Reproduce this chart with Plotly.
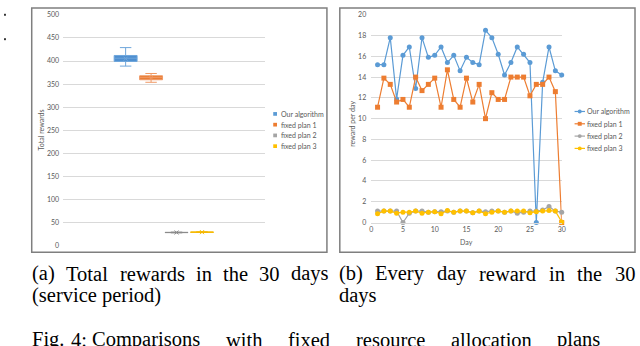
import plotly.graph_objects as go

W, H = 640, 346


def px(x):
    return x / W


def py(y):
    return 1 - y / H


# ---------------- data ----------------
series_names = ["Our algorithm", "fixed plan 1", "fixed plan 2", "fixed plan 3"]
colors = ["#5B9BD5", "#ED7D31", "#A5A5A5", "#FFC000"]

# (a) total rewards in the 30 days: box statistics per method
box_lower = [389, 354, 28.4, 29.2]
box_q1 = [399, 359.5, 28.9, 29.6]
box_median = [406, 364, 29.2, 29.9]
box_q3 = [412, 368, 29.5, 30.2]
box_upper = [429, 373, 30.0, 30.6]
box_mean = [405, 364, 29.2, 29.9]

# (b) every day reward in the 30 days
days = list(range(1, 31))
our_alg = [15.2, 15.2, 17.8, 11.9, 16.1, 16.9, 12.9, 17.8, 15.9, 16.1,
           16.9, 15.4, 16.1, 14.6, 15.9, 15.4, 15.2, 18.5, 17.8, 16.2,
           14.2, 15.4, 16.9, 16.2, 15.4, 0.0, 13.5, 16.9, 14.6, 14.2]
plan1 = [11.1, 13.9, 13.3, 11.6, 11.85, 11.1, 14.0, 12.7, 13.3, 13.9,
         11.1, 14.7, 11.85, 11.1, 13.9, 11.6, 13.3, 10.0, 12.5, 11.85,
         11.85, 14.0, 14.0, 14.0, 12.2, 13.3, 13.3, 14.0, 12.6, 0.0]
plan2 = [1.1, 1.1, 1.1, 1.1, 0.0, 0.9, 1.1, 1.1, 1.0, 1.05,
         1.05, 1.1, 1.0, 1.1, 1.1, 0.95, 1.1, 1.05, 1.1, 1.1,
         1.0, 1.1, 0.9, 1.0, 1.1, 1.1, 1.2, 1.55, 1.1, 1.0]
plan3 = [0.85, 1.1, 1.1, 0.9, 1.0, 1.0, 1.1, 0.9, 1.0, 1.05,
         0.85, 1.15, 1.0, 1.1, 1.1, 0.95, 1.1, 0.85, 1.0, 1.1,
         1.0, 1.1, 1.1, 1.1, 0.95, 1.05, 1.1, 1.15, 1.1, 0.05]
daily_series = [our_alg, plan1, plan2, plan3]
daily_symbols = ["circle", "square", "circle", "circle"]

left_yticks = list(range(0, 501, 50))
right_yticks = list(range(0, 21, 2))
right_xticks = list(range(0, 31, 5))

caption_a = ["(a) Total rewards in the 30 days", "(service period)"]
caption_b = ["(b) Every day reward in the 30", "days"]
caption_fig_label = "Fig. 4:"
caption_fig_text = "Comparisons with fixed resource allocation plans"

# ---------------- figure ----------------
fig = go.Figure()

box_fill = ["#4F8FD0", "#E8792C", "#8C8C8C", "#F5B800"]
box_line = ["#6FA6DB", "#F09A66", "#8C8C8C", "#F5B800"]
for i, name in enumerate(series_names):
    fig.add_trace(go.Box(
        x=[i], q1=[box_q1[i]], median=[box_median[i]], q3=[box_q3[i]],
        lowerfence=[box_lower[i]], upperfence=[box_upper[i]],
        width=0.9, whiskerwidth=0.5,
        fillcolor=box_fill[i], line=dict(color=box_line[i], width=1),
        boxpoints=False, showlegend=False, name=name,
        xaxis="x", yaxis="y", hoverinfo="skip"))
    fig.add_trace(go.Scatter(
        x=[i], y=[box_mean[i]], mode="markers",
        marker=dict(symbol="x-thin", size=4,
                    line=dict(width=1, color=box_line[i])),
        showlegend=False, xaxis="x", yaxis="y", hoverinfo="skip"))

for i, name in enumerate(series_names):
    fig.add_trace(go.Scatter(
        x=days, y=daily_series[i], mode="lines+markers", name=name,
        line=dict(color=colors[i], width=1.2),
        marker=dict(symbol=daily_symbols[i], size=5, color=colors[i]),
        cliponaxis=False, showlegend=False, xaxis="x2", yaxis="y2"))

tick_font = dict(family="Lato", size=7, color="#595959")

fig.update_layout(
    width=W, height=H,
    margin=dict(l=0, r=0, t=0, b=0),
    paper_bgcolor="white", plot_bgcolor="white",
    showlegend=False,
    xaxis=dict(domain=[px(61.7), px(265)], range=[-2.455, 5.455],
               showticklabels=False, showgrid=False, zeroline=False,
               showline=False, fixedrange=True),
    yaxis=dict(domain=[py(246.7), py(10)], range=[0, 500],
               tickvals=left_yticks, gridcolor="#D9D9D9", gridwidth=1,
               zeroline=False, showline=False, tickfont=tick_font,
               ticks="", ticklabelstandoff=3),
    xaxis2=dict(domain=[px(372.7), px(565)], range=[0, 30], anchor="y2",
                tickvals=right_xticks, showgrid=False, zeroline=False,
                showline=True, linecolor="#D9D9D9", linewidth=1,
                tickfont=tick_font, ticks=""),
    yaxis2=dict(domain=[py(222.7), py(10)], range=[0, 20], anchor="x2",
                tickvals=right_yticks, gridcolor="#D9D9D9", gridwidth=1,
                zeroline=False, showline=False, tickfont=tick_font,
                ticks="", ticklabelstandoff=4),
)

shapes = []
annotations = []

# panel borders
for x0, x1 in [(30, 328), (341, 639)]:
    shapes.append(dict(type="rect", xref="paper", yref="paper",
                       x0=px(x0), x1=px(x1), y0=py(253), y1=py(3),
                       line=dict(color="#7F7F7F", width=1.5)))

# stray marks at the top-left edge
for yy in [10, 35]:
    shapes.append(dict(type="rect", xref="paper", yref="paper",
                       x0=px(2), x1=px(4), y0=py(yy + 1), y1=py(yy - 1),
                       fillcolor="#333333", line=dict(width=0)))

# axis titles
ax_font = dict(family="Lato", size=7, color="#595959")
for text, xc, yc, ang in [("Total rewards", 39.5, 128.3, -90),
                          ("reward per day", 353, 122, -90),
                          ("Day", 469, 243, 0)]:
    annotations.append(dict(text=text, x=px(xc), y=py(yc), xref="paper",
                            yref="paper", textangle=ang, xanchor="center",
                            yanchor="middle", showarrow=False, font=ax_font))

# left legend (squares)
leg_font = dict(family="Lato", size=7, color="#595959")
for i, name in enumerate(series_names):
    yc = 111.5 + 11 * i
    shapes.append(dict(type="rect", xref="paper", yref="paper",
                       x0=px(273.8), x1=px(277.6), y0=py(yc + 1.9),
                       y1=py(yc - 1.9), fillcolor=colors[i],
                       line=dict(width=0)))
    annotations.append(dict(text=name, x=px(279.5), y=py(yc),
                            xref="paper", yref="paper", xanchor="left",
                            yanchor="middle", showarrow=False,
                            font=leg_font))

# right legend (line + marker)
for i, name in enumerate(series_names):
    yc = 109 + 12.6 * i
    shapes.append(dict(type="line", xref="paper", yref="paper",
                       x0=px(578), x1=px(588.5), y0=py(yc), y1=py(yc),
                       line=dict(color=colors[i], width=1.2)))
    shapes.append(dict(type="circle" if daily_symbols[i] == "circle" else "rect",
                       xref="paper", yref="paper",
                       x0=px(581.2), x1=px(585.2), y0=py(yc + 2),
                       y1=py(yc - 2), fillcolor=colors[i],
                       line=dict(width=0)))
    annotations.append(dict(text=name, x=px(589), y=py(yc),
                            xref="paper", yref="paper", xanchor="left",
                            yanchor="middle", showarrow=False,
                            font=leg_font))

# ---------------- captions (justified, word by word) ----------------
CAP_SIZE = 20.5
# Times / Liberation Serif advance widths (per 1000 em)
TW = {" ": 250, "(": 333, ")": 333, ".": 250, ":": 278, "a": 444, "b": 500,
      "c": 444, "d": 500, "e": 444, "f": 333, "g": 500, "h": 500, "i": 278,
      "l": 278, "m": 778, "n": 500, "o": 500, "p": 500, "r": 333, "s": 389,
      "t": 278, "u": 500, "v": 500, "w": 722, "x": 500, "y": 500, "E": 611,
      "F": 556, "T": 611, "C": 667}


def text_w(s):
    return sum(TW.get(c, 500) for c in s) * CAP_SIZE / 1000


def justify(words, x0, x1):
    ws = [text_w(w) for w in words]
    gap = (x1 - x0 - sum(ws)) / (len(words) - 1)
    out, x = [], x0
    for w, wd in zip(words, ws):
        out.append((w, x))
        x += wd + gap
    return out


def spaced(words, x0, gap):
    out, x = [], x0
    for w in words:
        out.append((w, x))
        x += text_w(w) + gap
    return out


lines = [
    (275, justify(caption_a[0].split(), 30.5, 329.5)
     + justify(caption_b[0].split(), 340, 639.5)),
    (297, [(caption_a[1], 30.5), (caption_b[1], 340)]),
    (342.5, spaced(caption_fig_label.split(), 30.5, 7)
     + spaced(caption_fig_text.split(),
              30.5 + text_w(caption_fig_label) + 7, 26.5)),
]
cap_font = dict(family="Liberation Serif", size=CAP_SIZE, color="black")
for yc, words in lines:
    for word, xl in words:
        annotations.append(dict(text=word, x=px(xl - 1), y=py(yc),
                                xref="paper", yref="paper", xanchor="left",
                                yanchor="middle", showarrow=False,
                                borderpad=0, font=cap_font))

fig.update_layout(shapes=shapes, annotations=annotations)
fig.write_html("out.html", config={"displayModeBar": False},
               post_script="document.body.style.margin='0';"
                           "document.body.style.overflow='hidden';")
